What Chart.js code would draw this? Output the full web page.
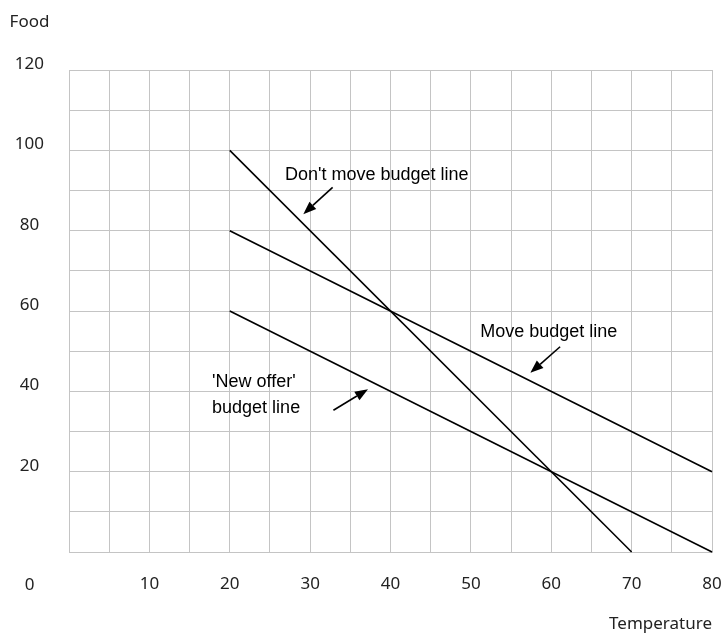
<!DOCTYPE html>
<html>
<head>
<meta charset="utf-8">
<script src="https://cdn.jsdelivr.net/npm/chart.js@4"></script>
<style>
html,body{margin:0;padding:0;background:#fff;}
#wrap{width:721px;height:634px;position:relative;}
</style>
</head>
<body>
<div id="wrap"><canvas id="c" width="721" height="634"></canvas></div>
<script>
// ---- data ----
const xLabel = 'Temperature';
const yLabel = 'Food';
const originLabel = '0';
const dontMoveLine = [{x:20,y:100},{x:70,y:0}];
const moveLine = [{x:20,y:80},{x:80,y:20}];
const newOfferLine = [{x:20,y:60},{x:80,y:0}];
const xTickLabels = [10,20,30,40,50,60,70,80];
const yTickLabels = [20,40,60,80,100,120];
// annotation texts with anchor (data coords) and arrow tail/tip (data coords)
const annTexts = [
  {lines:["Don't move budget line"], x:38.3, y:93.8, align:'center'},
  {lines:['Move budget line'], x:59.7, y:54.8, align:'center'},
  {lines:["'New offer'", 'budget line'], x:17.8, y:42.35, align:'left'}
];
const annArrows = [
  {from:[32.8,90.8], to:[29.15,84.1]},
  {from:[61.1,51.1], to:[57.4,44.6]},
  {from:[32.9,35.3], to:[37.2,40.5]}
];

const gridColor = '#c4c4c4';
const tickFont = {family:'"Noto Sans", sans-serif', size:17};
const annFont = '18px "Liberation Sans", Arial, sans-serif';

const annPlugin = {
  id:'ann',
  afterDraw(chart){
    const {ctx, scales:{x, y}} = chart;
    ctx.save();
    ctx.fillStyle = '#222';
    ctx.font = '17px "Noto Sans", sans-serif';
    ctx.textAlign = 'center';
    ctx.textBaseline = 'middle';
    const colX = 29.5;
    ctx.fillText(yLabel, colX, 22);
    ctx.fillText(originLabel, colX, 585);
    ctx.fillStyle = '#000';
    ctx.font = annFont;
    annTexts.forEach(a => {
      ctx.textAlign = a.align;
      a.lines.forEach((t, i) => {
        ctx.fillText(t, x.getPixelForValue(a.x), y.getPixelForValue(a.y) + i * 26.6);
      });
    });
    ctx.strokeStyle = '#000';
    ctx.lineWidth = 1.6;
    annArrows.forEach(a => {
      const x1 = x.getPixelForValue(a.from[0]), y1 = y.getPixelForValue(a.from[1]);
      const x2 = x.getPixelForValue(a.to[0]), y2 = y.getPixelForValue(a.to[1]);
      const ang = Math.atan2(y2 - y1, x2 - x1);
      const hl = 13, hw = 5;
      const bx = x2 - hl * Math.cos(ang), by = y2 - hl * Math.sin(ang);
      ctx.beginPath(); ctx.moveTo(x1, y1); ctx.lineTo(bx, by); ctx.stroke();
      ctx.beginPath();
      ctx.moveTo(x2, y2);
      ctx.lineTo(bx + hw * Math.sin(ang), by - hw * Math.cos(ang));
      ctx.lineTo(bx - hw * Math.sin(ang), by + hw * Math.cos(ang));
      ctx.closePath(); ctx.fill();
    });
    ctx.restore();
  }
};

const lineStyle = {borderColor:'#000', borderWidth:1.6, pointRadius:0, showLine:true, fill:false, tension:0, clip:false};

new Chart(document.getElementById('c'), {
  type:'scatter',
  data:{datasets:[
    Object.assign({label:"Don't move budget line", data:dontMoveLine}, lineStyle),
    Object.assign({label:'Move budget line', data:moveLine}, lineStyle),
    Object.assign({label:"'New offer' budget line", data:newOfferLine}, lineStyle)
  ]},
  options:{
    responsive:false, animation:false,
    layout:{padding:{left:0, top:70, right:9, bottom:0}},
    plugins:{legend:{display:false}, tooltip:{enabled:false}},
    scales:{
      x:{
        type:'linear', min:0, max:80,
        afterFit(s){ s.height = 82; s.paddingLeft = 0; s.paddingRight = 0; },
        grid:{color:gridColor, lineWidth:1, drawTicks:false},
        border:{color:gridColor, width:1},
        ticks:{stepSize:5, padding:22, color:'#222', font:tickFont, maxRotation:0, autoSkip:false,
          callback:(v)=> xTickLabels.includes(v) ? String(v) : ''},
        title:{display:true, text:xLabel, align:'end', color:'#222', font:tickFont, padding:{top:0,bottom:0}}
      },
      y:{
        type:'linear', min:0, max:120,
        afterFit(s){ s.width = 69; s.paddingTop = 0; s.paddingBottom = 0; },
        grid:{color:gridColor, lineWidth:1, drawTicks:false},
        border:{color:gridColor, width:1},
        ticks:{stepSize:10, padding:25, labelOffset:-6, crossAlign:'center', color:'#222', font:tickFont, autoSkip:false,
          callback:(v)=> yTickLabels.includes(v) ? String(v) : ''}
      }
    }
  },
  plugins:[annPlugin]
});
</script>
</body>
</html>
